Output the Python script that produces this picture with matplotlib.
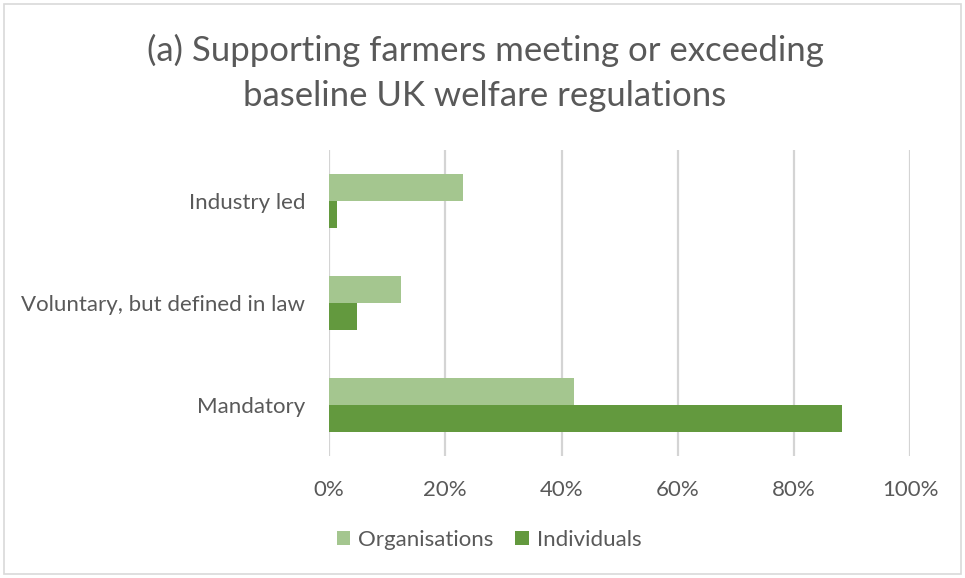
import numpy as np
import matplotlib.pyplot as plt
from matplotlib.patches import Rectangle

categories = ["Industry led", "Voluntary, but defined in law", "Mandatory"]
organisations = [23.1, 12.4, 42.1]
individuals = [1.4, 4.8, 88.2]
ticks = [0, 20, 40, 60, 80, 100]

light_green = "#A4C68F"
dark_green = "#63993E"
text_grey = "#595959"

plt.rcParams["font.family"] = ["Lato", "DejaVu Sans"]

fig = plt.figure(figsize=(9.65, 5.78), dpi=100)
ax = fig.add_axes([329 / 965, 1 - 456 / 578, (910.5 - 329) / 965, 306 / 578])

y = np.arange(len(categories))
h = 0.265
ax.barh(y - h / 2, organisations, height=h, color=light_green, label="Organisations", zorder=3)
ax.barh(y + h / 2, individuals, height=h, color=dark_green, label="Individuals", zorder=3)

ax.set_xlim(0, 100)
ax.set_ylim(len(categories) - 0.5, -0.5)
ax.set_xticks(ticks)
ax.set_xticklabels([f"{t}%" for t in ticks], fontsize=16, color=text_grey)
ax.set_yticks(y)
ax.set_yticklabels(categories, fontsize=16, color=text_grey)
ax.tick_params(axis="x", length=0, pad=17)
ax.tick_params(axis="y", length=0, pad=17)
ax.grid(axis="x", color="#D4D4D4", linewidth=1.6, zorder=0)
for s in ax.spines.values():
    s.set_visible(False)

fig.text(485 / 965, 1 - 73 / 578,
         "(a) Supporting farmers meeting or exceeding\nbaseline UK welfare regulations",
         ha="center", va="center", fontsize=25, color=text_grey, linespacing=1.5)

leg = fig.legend(loc="center", bbox_to_anchor=(489 / 965, 1 - 540 / 578), ncol=2,
                 frameon=False, fontsize=16, handlelength=0.6, handleheight=0.6,
                 handletextpad=0.35, columnspacing=1.0)
for t in leg.get_texts():
    t.set_color(text_grey)

fig.patches.append(Rectangle((4 / 965, 4 / 578), 957 / 965, 570 / 578, transform=fig.transFigure,
                             fill=False, edgecolor="#D9D9D9", linewidth=1.2))

fig.savefig("out.png", dpi=100)
